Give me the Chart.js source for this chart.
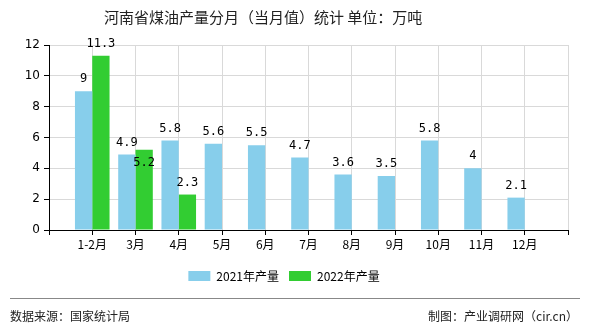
<!DOCTYPE html>
<html>
<head>
<meta charset="utf-8">
<script src="https://cdn.jsdelivr.net/npm/chart.js@4"></script>
<style>
  body { margin: 0; background: #fff; }
  #wrap { position: relative; width: 590px; height: 330px; font-family: "Noto Sans CJK SC", sans-serif; }
  #title { position: absolute; top: 6px; left: 104px; font-size: 15px; color: #222; white-space: nowrap; }
  #line { position: absolute; top: 298px; left: 10px; width: 570px; height: 1px; background: #888; }
  .foot { position: absolute; top: 307px; font-size: 12px; color: #222; }
  canvas { position: absolute; top: 0; left: 0; }
</style>
</head>
<body>
<div id="wrap">
  <canvas id="myChart" width="590" height="330"></canvas>
  <div id="title">河南省煤油产量分月（当月值）统计&nbsp;单位：万吨</div>
  <div id="line"></div>
  <div class="foot" style="left:10px">数据来源：国家统计局</div>
  <div class="foot" style="right:12px">制图：产业调研网（cir.cn）</div>
</div>
<script>
const months = ["1-2月", "3月", "4月", "5月", "6月", "7月", "8月", "9月", "10月", "11月", "12月"];
const output2021 = [9, 4.9, 5.8, 5.6, 5.5, 4.7, 3.6, 3.5, 5.8, 4, 2.1];
const output2022 = [11.3, 5.2, 2.3];
const yTicks = [0, 2, 4, 6, 8, 10, 12];

// the axis has an empty slot at each end, bars sit on the ticks
const pad = arr => [null].concat(months.map((m, i) => arr[i] ?? null), [null]);

// labels above each bar; if one would hit the label beside it, it goes inside the bar
const barLabels = {
  id: "barLabels",
  afterDatasetsDraw(chart) {
    const ctx = chart.ctx;
    ctx.save();
    ctx.font = "12px 'DejaVu Sans Mono', monospace";
    ctx.fillStyle = "#000";
    ctx.textAlign = "center";
    ctx.textBaseline = "bottom";
    const placed = [];
    chart.data.datasets.forEach((ds, i) => {
      chart.getDatasetMeta(i).data.forEach((bar, j) => {
        const v = ds.data[j];
        if (v == null) return;
        const txt = String(v);
        const w = ctx.measureText(txt).width;
        let bottom = bar.y - 6;
        const hit = placed.some(p => Math.abs(p.x - bar.x) < (p.w + w) / 2 && Math.abs(p.b - bottom) < 13);
        if (hit) bottom = bar.y + 19;
        ctx.fillText(txt, bar.x, bottom);
        placed.push({ x: bar.x, w: w, b: bottom });
      });
    });
    ctx.restore();
  }
};

new Chart(document.getElementById("myChart"), {
  type: "bar",
  data: {
    labels: [""].concat(months, [""]),
    datasets: [
      { label: "2021年产量", data: pad(output2021), backgroundColor: "#87CEEB" },
      { label: "2022年产量", data: pad(output2022), backgroundColor: "#32CD32" }
    ]
  },
  options: {
    responsive: false,
    animation: false,
    layout: { padding: { top: 45, right: 22, bottom: 38, left: 0 } },
    datasets: { bar: { categoryPercentage: 0.8, barPercentage: 1 } },
    scales: {
      x: {
        offset: false,
        grid: { offset: false, color: "#d9d9d9", tickColor: "#000", tickLength: 5 },
        border: { color: "#000" },
        ticks: { color: "#000", font: { size: 12, family: "'Noto Sans CJK SC'" }, padding: 2, autoSkip: false, maxRotation: 0 },
        afterFit(scale) { scale.height = 30; }
      },
      y: {
        min: 0,
        max: 12,
        afterBuildTicks(scale) { scale.ticks = yTicks.map(v => ({ value: v })); },
        grid: { color: "#d9d9d9", tickColor: "#000", tickLength: 5 },
        border: { color: "#000" },
        ticks: { color: "#000", font: { size: 12, family: "'DejaVu Sans'" }, padding: 4 },
        afterFit(scale) { scale.width = 49; }
      }
    },
    plugins: {
      legend: {
        position: "bottom",
        labels: { boxWidth: 22, boxHeight: 10, color: "#000", font: { size: 12, family: "'Noto Sans CJK SC'" }, padding: 10 }
      },
      tooltip: { enabled: false }
    }
  },
  plugins: [barLabels]
});
</script>
</body>
</html>
